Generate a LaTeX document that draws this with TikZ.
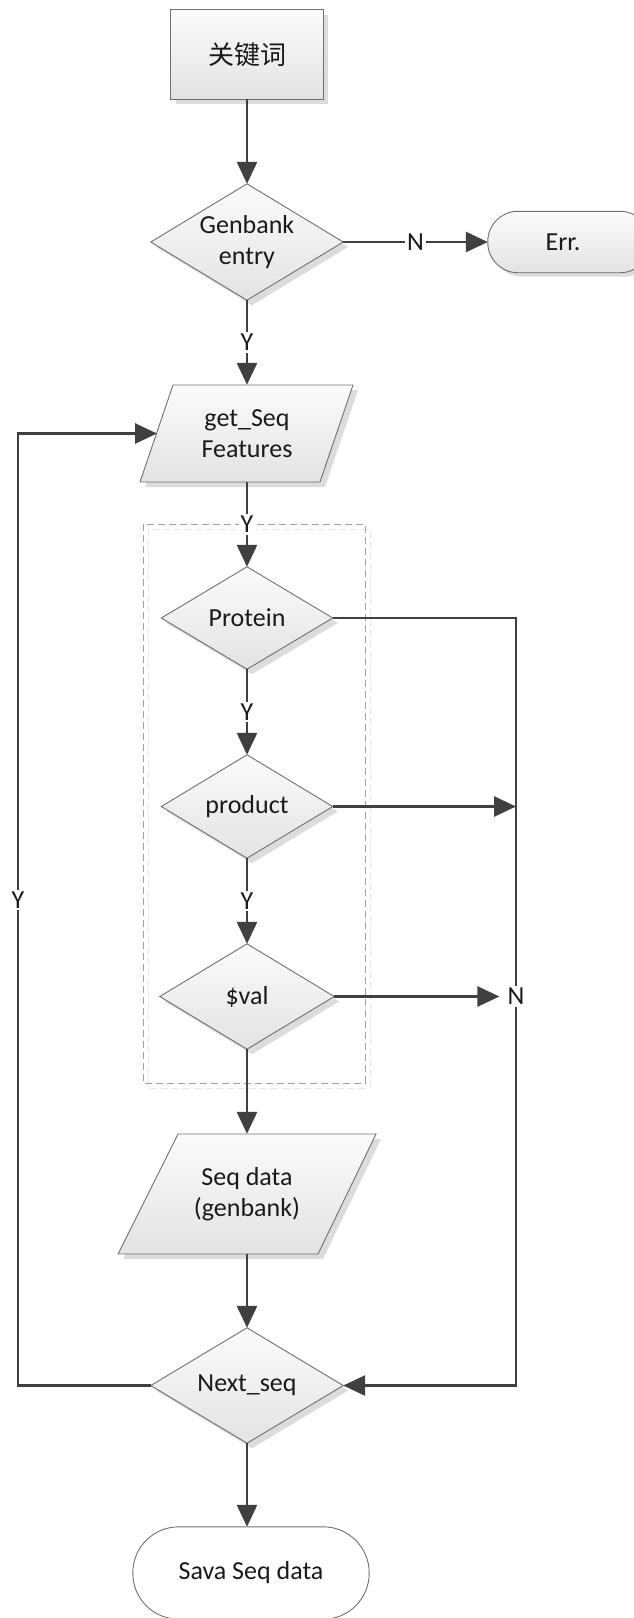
\documentclass[tikz,border=0pt]{standalone}
\usepackage{fontspec}
\setmainfont{Carlito}
\newfontfamily\cjk{Noto Sans CJK SC}
\usetikzlibrary{arrows.meta,calc}
\pgfdeclarelayer{bg}
\pgfsetlayers{bg,main}
\definecolor{ln}{HTML}{404040}
\definecolor{bd}{HTML}{707070}
\definecolor{sh}{HTML}{DCDCDC}
\definecolor{ftop}{HTML}{FBFBFB}
\definecolor{fbot}{HTML}{E3E3E3}
\definecolor{txt}{HTML}{1A1A1A}
\definecolor{dsh}{HTML}{A0A0A0}
\definecolor{dshl}{HTML}{E6E6E6}
\tikzset{
  lbl/.style={inner sep=0pt, align=center, text=txt, font=\fontsize{26}{31}\selectfont},
  tag/.style={fill=white, inner sep=2pt, text=txt, font=\fontsize{26}{31}\selectfont},
  conn/.style={draw=ln, line width=2.8pt},
  arr/.style={conn, -{Triangle[length=22pt,width=20pt]}},
  shp/.style={draw=bd, line width=0.9pt, top color=ftop, bottom color=fbot},
  shd/.style={fill=sh},
}
\newcommand\mydia[1]{%
  \fill[shd] ([shift={(5,5)}]#1.north) -- ([shift={(5,5)}]#1.east) -- ([shift={(5,5)}]#1.south) -- ([shift={(5,5)}]#1.west) -- cycle;
  \path[shp] (#1.north) -- (#1.east) -- (#1.south) -- (#1.west) -- cycle;}
\begin{document}
\begin{tikzpicture}[x=1pt,y=-1pt]
\useasboundingbox (0,0) rectangle (634,1618);
% text nodes (shapes drawn on bg layer)
\node[lbl, minimum width=152pt, minimum height=89pt] (kw) at (247,54.5) {\cjk 关键词};
\node[lbl, minimum width=192pt, minimum height=116pt] (gb) at (247,242) {Genbank\\entry};
\node[lbl, minimum width=150pt, minimum height=61pt] (err) at (563,242) {Err.};
\node[lbl, minimum width=213pt, minimum height=97pt] (gs) at (247,433.5) {get\_Seq\\Features};
\node[lbl, minimum width=171pt, minimum height=102pt] (pr) at (247,618) {Protein};
\node[lbl, minimum width=171pt, minimum height=103pt] (pd) at (247,806.5) {product};
\node[lbl, minimum width=174pt, minimum height=105pt] (va) at (247,996.5) {\$val};
\node[lbl, minimum width=258pt, minimum height=120pt] (sd) at (247,1194) {Seq data\\(genbank)};
\node[lbl, minimum width=192pt, minimum height=115pt] (nx) at (247,1385.5) {Next\_seq};
\node[lbl, minimum width=236pt, minimum height=92pt] (sv) at (251,1573) {Sava Seq data};
\begin{pgfonlayer}{bg}
  % dashed group box
  \draw[dshl, line width=1pt, dash pattern=on 7pt off 4pt] (148,529) rectangle (370,1088);
  \draw[dsh, line width=1pt, dash pattern=on 7pt off 4pt] (143,524) rectangle (365,1083);
  % box
  \fill[shd] ([shift={(5,5)}]kw.north west) rectangle ([shift={(5,5)}]kw.south east);
  \path[shp] (kw.north west) rectangle (kw.south east);
  % diamonds
  \mydia{gb}
  \mydia{pr}
  \mydia{pd}
  \mydia{va}
  \mydia{nx}
  % Err terminal (runs past the right edge)
  \fill[shd, rounded corners=30pt] ([shift={(4,4)}]err.north west) rectangle ([shift={(16,4)}]err.south east);
  \path[shp, rounded corners=30pt] (err.north west) rectangle ([shift={(12,0)}]err.south east);
  % parallelograms
  \fill[shd] (178,390) -- (358,390) -- (325,487) -- (145,487) -- cycle;
  \path[shp] (173,385) -- (353,385) -- (320,482) -- (140,482) -- cycle;
  \fill[shd] (183,1139) -- (381,1139) -- (323,1259) -- (123,1259) -- cycle;
  \path[shp] (178,1134) -- (376,1134) -- (318,1254) -- (118,1254) -- cycle;
  % save terminal
  \draw[bd, line width=0.9pt, fill=white, rounded corners=46pt] (sv.north west) rectangle (sv.south east);
\end{pgfonlayer}
% helper coordinates
\coordinate (gsl) at (157,433.5);
\coordinate (rt) at (516,618);
\coordinate (rb) at (516,1385.5);
\coordinate (lb) at (18,1385.5);
\coordinate (lt) at (18,433.5);
\node[tag] (nn) at (516,996.5) {N};
% connectors
\draw[arr] (kw.south) -- (gb.north);
\draw[arr] (gb.east) -- node[tag]{N} (gb.east -| err.west);
\draw[arr] (gb.south) -- node[tag]{Y} (gs.north);
\draw[arr] (gs.south) -- node[tag]{Y} (pr.north);
\draw[arr] (pr.south) -- node[tag]{Y} (pd.north);
\draw[arr] (pd.south) -- node[tag]{Y} (va.north);
\draw[arr] (va.south) -- (sd.north);
\draw[arr] (sd.south) -- (nx.north);
\draw[arr] (nx.south) -- (nx.south |- sv.north);
\draw[conn] (pr.east) -- (rt) -- (nn);
\draw[arr] (nn) -- (rb) -- (nx.east);
\draw[arr] (pd.east) -- (pd.east -| rt);
\draw[arr, shorten >=6pt] (va.east) -- (va.east -| nn.west);
\draw[arr] (nx.west) -- (lb) -- node[tag, pos=0.51]{Y} (lt) -- (gsl);
\end{tikzpicture}
\end{document}
